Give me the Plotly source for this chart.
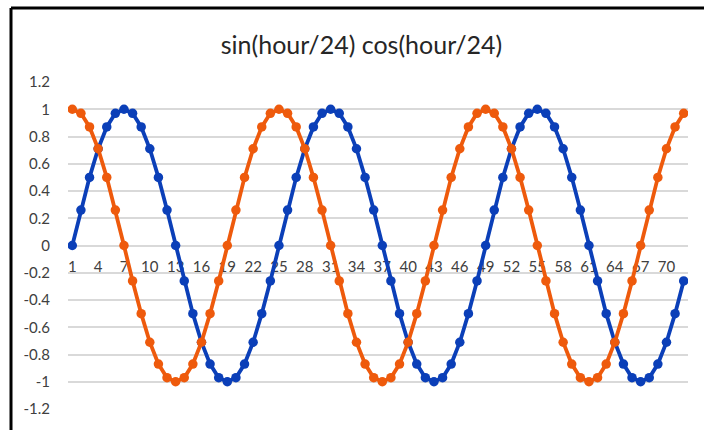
import plotly.graph_objects as go

hours = list(range(1, 73))
sin_vals = [0, 0.26, 0.5, 0.71, 0.87, 0.97, 1, 0.97, 0.87, 0.71, 0.5, 0.26,
            0, -0.26, -0.5, -0.71, -0.87, -0.97, -1, -0.97, -0.87, -0.71, -0.5, -0.26,
            0, 0.26, 0.5, 0.71, 0.87, 0.97, 1, 0.97, 0.87, 0.71, 0.5, 0.26,
            0, -0.26, -0.5, -0.71, -0.87, -0.97, -1, -0.97, -0.87, -0.71, -0.5, -0.26,
            0, 0.26, 0.5, 0.71, 0.87, 0.97, 1, 0.97, 0.87, 0.71, 0.5, 0.26,
            0, -0.26, -0.5, -0.71, -0.87, -0.97, -1, -0.97, -0.87, -0.71, -0.5, -0.26]
cos_vals = [1, 0.97, 0.87, 0.71, 0.5, 0.26, 0, -0.26, -0.5, -0.71, -0.87, -0.97,
            -1, -0.97, -0.87, -0.71, -0.5, -0.26, 0, 0.26, 0.5, 0.71, 0.87, 0.97,
            1, 0.97, 0.87, 0.71, 0.5, 0.26, 0, -0.26, -0.5, -0.71, -0.87, -0.97,
            -1, -0.97, -0.87, -0.71, -0.5, -0.26, 0, 0.26, 0.5, 0.71, 0.87, 0.97,
            1, 0.97, 0.87, 0.71, 0.5, 0.26, 0, -0.26, -0.5, -0.71, -0.87, -0.97,
            -1, -0.97, -0.87, -0.71, -0.5, -0.26, 0, 0.26, 0.5, 0.71, 0.87, 0.97]
x_ticks = list(range(1, 73, 3))
y_ticks = [-1.2, -1, -0.8, -0.6, -0.4, -0.2, 0, 0.2, 0.4, 0.6, 0.8, 1, 1.2]
y_labels = ["-1.2", "-1", "-0.8", "-0.6", "-0.4", "-0.2", "0", "0.2", "0.4", "0.6", "0.8", "1", "1.2"]

BLUE = "#0b3fb8"
ORANGE = "#ee5a0c"
FONT = "Lato"

fig = go.Figure()
fig.add_trace(go.Scatter(x=hours, y=sin_vals, mode="lines+markers", name="sin",
                         line=dict(color=BLUE, width=3.8),
                         marker=dict(color=BLUE, size=9.5)))
fig.add_trace(go.Scatter(x=hours, y=cos_vals, mode="lines+markers", name="cos",
                         line=dict(color=ORANGE, width=3.8),
                         marker=dict(color=ORANGE, size=9.5)))

W, H = 704, 430
ml, mr, mt, mb = 68, 16, 82, 21
pw, ph = W - ml - mr, H - mt - mb

def px_to_paper_x(px):
    return (px - ml) / pw

def px_to_paper_y(py):
    return (H - mb - py) / ph

fig.update_layout(
    width=W, height=H,
    margin=dict(l=ml, r=mr, t=mt, b=mb, pad=0),
    paper_bgcolor="white", plot_bgcolor="white",
    showlegend=False,
    font=dict(family=FONT, color="#595959", size=15),
    title=dict(text="sin(hour/24) cos(hour/24)", x=361.5 / W, xanchor="center",
               y=1 - 45 / H, yanchor="middle", yref="container",
               font=dict(family=FONT, size=25, color="#262626")),
    xaxis=dict(range=[0.5, 72.5], tickvals=x_ticks, ticktext=[str(v) for v in x_ticks],
               showgrid=False, zeroline=False, showline=False,
               anchor="free", position=0.5, ticks="outside", ticklen=7,
               tickcolor="rgba(0,0,0,0)", layer="below traces",
               tickfont=dict(size=15, color="#404040")),
    yaxis=dict(range=[-1.2, 1.2], tickvals=y_ticks, ticktext=y_labels,
               showgrid=True, gridcolor="#d9d9d9", gridwidth=1.5,
               zeroline=False, showline=False, ticks="outside", ticklen=14,
               tickcolor="rgba(0,0,0,0)",
               tickfont=dict(size=15, color="#404040")),
    shapes=[
        dict(type="line", xref="paper", yref="paper",
             x0=px_to_paper_x(11), x1=px_to_paper_x(W + 5),
             y0=px_to_paper_y(8), y1=px_to_paper_y(8),
             line=dict(color="black", width=3)),
        dict(type="line", xref="paper", yref="paper",
             x0=px_to_paper_x(11), x1=px_to_paper_x(11),
             y0=px_to_paper_y(8), y1=px_to_paper_y(H + 5),
             line=dict(color="black", width=3)),
    ],
)

fig.write_html("out.html")
